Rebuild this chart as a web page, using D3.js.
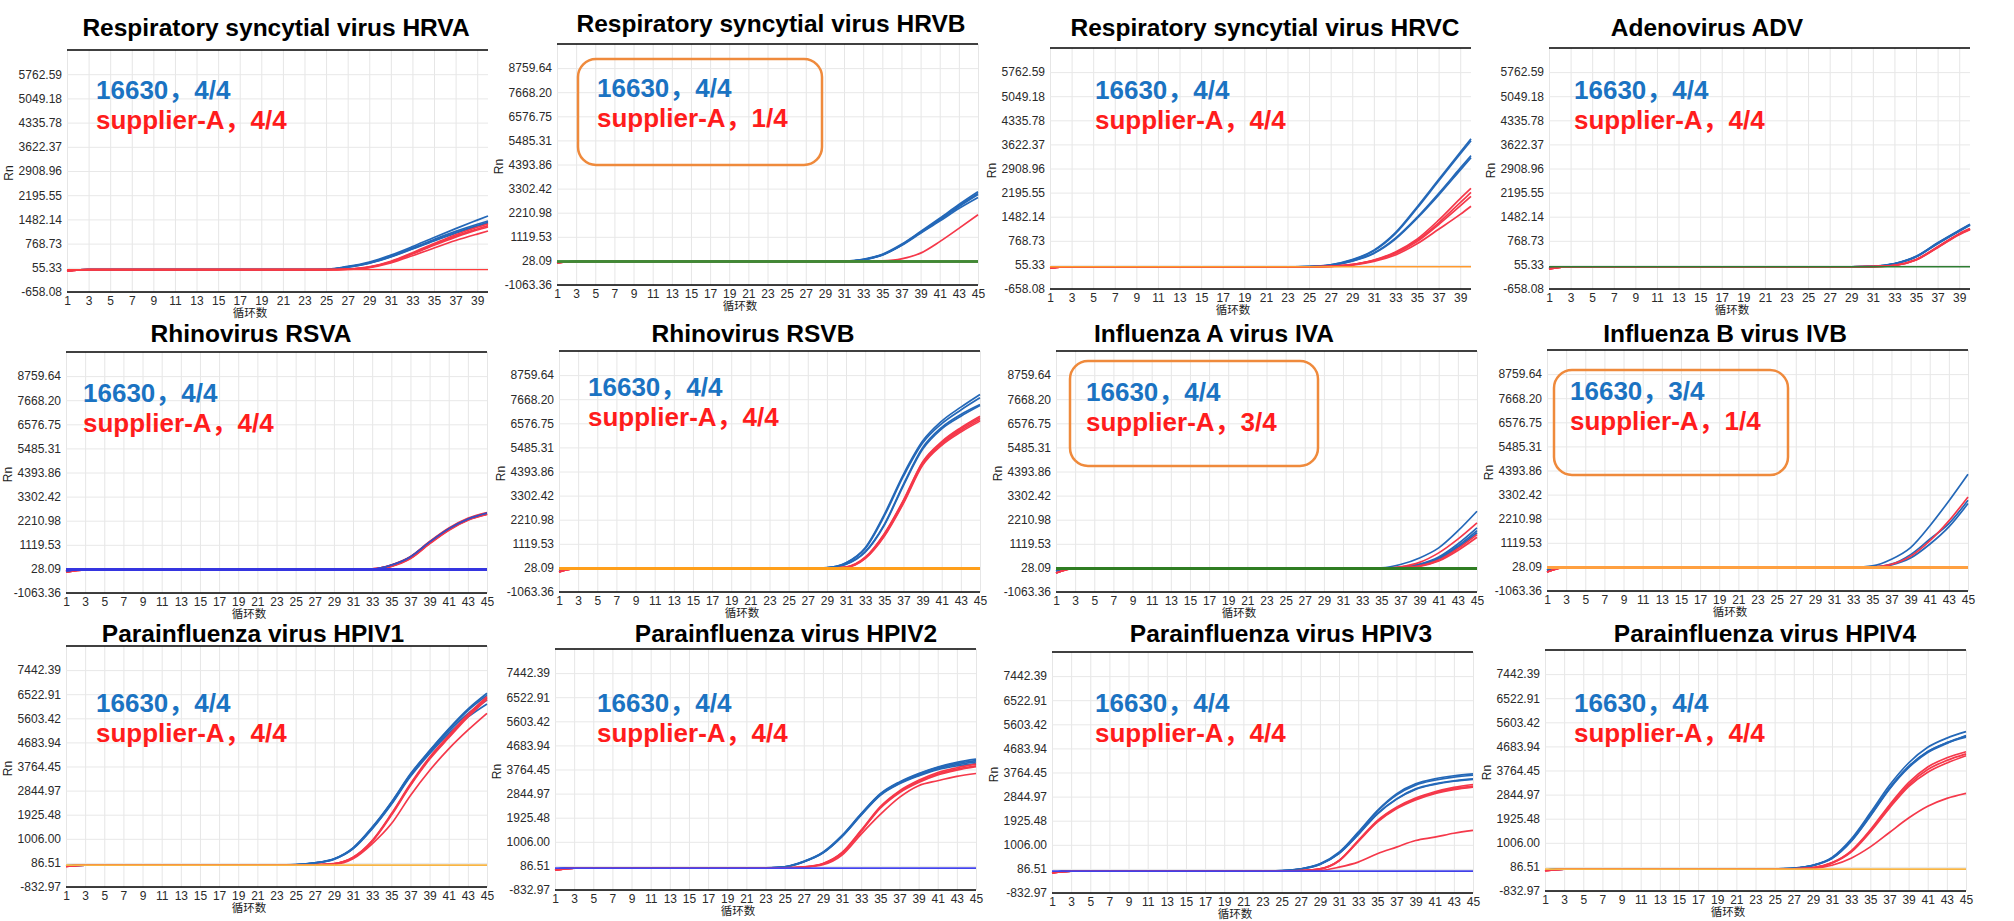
<!DOCTYPE html>
<html><head><meta charset="utf-8">
<script src="https://cdn.jsdelivr.net/npm/d3@7"></script>
<style>body{margin:0;background:#fff}svg{display:block}</style>
</head><body>
<svg id="c" width="2014" height="921"></svg>
<script>
// ---------------- DATA ----------------
const titles = ["Respiratory syncytial virus HRVA","Respiratory syncytial virus HRVB","Respiratory syncytial virus HRVC","Adenovirus ADV",
  "Rhinovirus RSVA","Rhinovirus RSVB","Influenza A virus IVA","Influenza B virus IVB",
  "Parainfluenza virus HPIV1","Parainfluenza virus HPIV2","Parainfluenza virus HPIV3","Parainfluenza virus HPIV4"];
const resultsA = ["16630，4/4","16630，4/4","16630，4/4","16630，4/4","16630，4/4","16630，4/4","16630，4/4","16630，3/4","16630，4/4","16630，4/4","16630，4/4","16630，4/4"];
const resultsB = ["supplier-A，4/4","supplier-A，1/4","supplier-A，4/4","supplier-A，4/4","supplier-A，4/4","supplier-A，4/4","supplier-A，3/4","supplier-A，1/4","supplier-A，4/4","supplier-A，4/4","supplier-A，4/4","supplier-A，4/4"];
const xLabel = "循环数";
const yLabel = "Rn";
const cycles40 = [1,3,5,7,9,11,13,15,17,19,21,23,25,27,29,31,33,35,37,39,40];
const cycles45 = [1,3,5,7,9,11,13,15,17,19,21,23,25,27,29,31,33,35,37,39,41,43,45];
const xTicks40 = [1,3,5,7,9,11,13,15,17,19,21,23,25,27,29,31,33,35,37,39];
const xTicks45 = [1,3,5,7,9,11,13,15,17,19,21,23,25,27,29,31,33,35,37,39,41,43,45];
const yTicksA = [-658.08,55.33,768.73,1482.14,2195.55,2908.96,3622.37,4335.78,5049.18,5762.59];
const yTicksB = [-1063.36,28.09,1119.53,2210.98,3302.42,4393.86,5485.31,6576.75,7668.20,8759.64];
const yTicksC = [-832.97,86.51,1006.00,1925.48,2844.97,3764.45,4683.94,5603.42,6522.91,7442.39];

// HRVA (cycles40)
const hrva16630 = [
 [-20,0,0,0,0,0,0,0,0,0,0,0,8,95,225,430,680,950,1210,1460,1584],
 [-20,0,0,0,0,0,0,0,0,0,0,0,5,85,205,400,640,890,1130,1340,1436],
 [-20,0,0,0,0,0,0,0,0,0,0,0,5,80,195,385,620,860,1090,1300,1400],
 [-20,0,0,0,0,0,0,0,0,0,0,0,3,75,190,375,610,850,1075,1280,1376]];
const hrvaSupplierA = [
 [-40,0,0,0,0,0,0,0,0,0,0,0,0,20,85,250,500,770,1030,1250,1347],
 [-40,0,0,0,0,0,0,0,0,0,0,0,0,15,75,235,475,740,990,1200,1300],
 [-40,0,0,0,0,0,0,0,0,0,0,0,0,15,70,225,460,720,960,1170,1260],
 [-40,0,0,0,0,0,0,0,0,0,0,0,0,10,60,200,410,640,860,1050,1140]];
const hrvaNeg = [[0,0,0,0,0,0,0,0,0,0,0,0,0,0,0,0,0,0,0,0,0]];

// HRVB (cycles45)
const hrvb16630 = [
 [-30,0,0,0,0,0,0,0,0,0,0,0,0,0,0,15,100,330,780,1360,1960,2580,3160],
 [-30,0,0,0,0,0,0,0,0,0,0,0,0,0,0,12,90,310,750,1330,1910,2520,3080],
 [-30,0,0,0,0,0,0,0,0,0,0,0,0,0,0,10,85,300,740,1310,1880,2480,3030],
 [-30,0,0,0,0,0,0,0,0,0,0,0,0,0,0,8,80,290,720,1280,1830,2400,2900]];
const hrvbSupplierA = [
 [-60,0,0,0,0,0,0,0,0,0,0,0,0,0,0,0,0,25,120,380,900,1500,2120],
 [-60,0,0,0,0,0,0,0,0,0,0,0,0,0,0,0,0,0,0,0,0,0,0],
 [-60,0,0,0,0,0,0,0,0,0,0,0,0,0,0,0,0,0,0,0,0,0,0],
 [-60,0,0,0,0,0,0,0,0,0,0,0,0,0,0,0,0,0,0,0,0,0,0]];
const hrvbNeg = [[0,0,0,0,0,0,0,0,0,0,0,0,0,0,0,0,0,0,0,0,0,0,0],[0,0,0,0,0,0,0,0,0,0,0,0,0,0,0,0,0,0,0,0,0,0,0]];

// HRVC (cycles40)
const hrvc16630 = [
 [-20,0,0,0,0,0,0,0,0,0,0,0,8,60,210,490,1010,1770,2580,3390,3786],
 [-20,0,0,0,0,0,0,0,0,0,0,0,8,55,200,470,980,1730,2540,3340,3730],
 [-20,0,0,0,0,0,0,0,0,0,0,0,5,45,175,410,850,1465,2170,2920,3291],
 [-20,0,0,0,0,0,0,0,0,0,0,0,5,40,165,395,820,1430,2120,2860,3230]];
const hrvcSupplierA = [
 [-40,0,0,0,0,0,0,0,0,0,0,0,0,15,70,200,440,820,1380,2020,2324],
 [-40,0,0,0,0,0,0,0,0,0,0,0,0,12,65,190,415,780,1300,1900,2200],
 [-40,0,0,0,0,0,0,0,0,0,0,0,0,10,60,180,395,745,1250,1800,2087],
 [-40,0,0,0,0,0,0,0,0,0,0,0,0,8,50,160,350,680,1110,1550,1791]];
const hrvcNeg = [[0,0,0,0,0,0,0,0,0,0,0,0,0,0,0,0,0,0,0,0,0]];

// ADV (cycles40)
const adv16630 = [
 [-40,0,0,0,0,0,0,0,0,0,0,0,0,0,0,12,95,310,710,1080,1260],
 [-40,0,0,0,0,0,0,0,0,0,0,0,0,0,0,10,90,300,700,1070,1250],
 [-40,0,0,0,0,0,0,0,0,0,0,0,0,0,0,10,88,295,690,1060,1240],
 [-40,0,0,0,0,0,0,0,0,0,0,0,0,0,0,8,85,290,680,1050,1230]];
const advSupplierA = [
 [-60,0,0,0,0,0,0,0,0,0,0,0,0,0,0,5,45,215,590,980,1130],
 [-60,0,0,0,0,0,0,0,0,0,0,0,0,0,0,5,40,210,580,970,1122],
 [-60,0,0,0,0,0,0,0,0,0,0,0,0,0,0,4,38,205,575,960,1110],
 [-60,0,0,0,0,0,0,0,0,0,0,0,0,0,0,3,35,200,565,950,1100]];
const advNeg = [[0,0,0,0,0,0,0,0,0,0,0,0,0,0,0,0,0,0,0,0,0]];

// RSVA (cycles45)
const rsva16630 = [
 [-80,0,0,0,0,0,0,0,0,0,0,0,0,0,0,5,25,210,590,1260,1860,2300,2570],
 [-80,0,0,0,0,0,0,0,0,0,0,0,0,0,0,5,20,200,580,1250,1850,2290,2560],
 [-80,0,0,0,0,0,0,0,0,0,0,0,0,0,0,4,18,195,570,1240,1840,2280,2550],
 [-80,0,0,0,0,0,0,0,0,0,0,0,0,0,0,4,15,190,560,1230,1830,2270,2540]];
const rsvaSupplierA = [
 [-100,0,0,0,0,0,0,0,0,0,0,0,0,0,0,3,15,185,560,1240,1850,2300,2560],
 [-100,0,0,0,0,0,0,0,0,0,0,0,0,0,0,3,12,175,545,1220,1830,2280,2540],
 [-100,0,0,0,0,0,0,0,0,0,0,0,0,0,0,2,10,170,535,1210,1820,2270,2530],
 [-100,0,0,0,0,0,0,0,0,0,0,0,0,0,0,2,8,160,520,1190,1800,2250,2510]];
const rsvaNeg = [[0,0,0,0,0,0,0,0,0,0,0,0,0,0,0,0,0,0,0,0,0,0,0]];

// RSVB (cycles45)
const rsvb16630 = [
 [-60,0,0,0,0,0,0,0,0,0,0,0,0,0,40,265,945,2455,4268,5770,6676,7307,7882],
 [-60,0,0,0,0,0,0,0,0,0,0,0,0,0,35,250,900,2380,4180,5680,6560,7180,7731],
 [-60,0,0,0,0,0,0,0,0,0,0,0,0,0,25,200,760,2002,3815,5469,6395,6980,7429],
 [-60,0,0,0,0,0,0,0,0,0,0,0,0,0,25,190,740,1960,3760,5400,6330,6900,7380]];
const rsvbSupplierA = [
 [-150,0,0,0,0,0,0,0,0,0,0,0,0,0,10,70,510,1580,3100,4830,5750,6380,6900],
 [-150,0,0,0,0,0,0,0,0,0,0,0,0,0,10,60,492,1549,3059,4790,5700,6320,6827],
 [-150,0,0,0,0,0,0,0,0,0,0,0,0,0,8,55,470,1500,3000,4730,5640,6250,6752],
 [-150,0,0,0,0,0,0,0,0,0,0,0,0,0,8,50,450,1460,2950,4670,5580,6180,6676]];
const rsvbNeg = [[0,0,0,0,0,0,0,0,0,0,0,0,0,0,0,0,0,0,0,0,0,0,0]];

// IVA (cycles45)
const iva16630 = [
 [-100,0,0,0,0,0,0,0,0,0,0,0,0,0,0,0,5,30,180,480,935,1700,2595],
 [-100,0,0,0,0,0,0,0,0,0,0,0,0,0,0,0,0,10,60,200,520,1110,1839],
 [-100,0,0,0,0,0,0,0,0,0,0,0,0,0,0,0,0,8,50,180,470,1020,1718],
 [-100,0,0,0,0,0,0,0,0,0,0,0,0,0,0,0,0,6,40,150,420,950,1620]];
const ivaSupplierA = [
 [-200,0,0,0,0,0,0,0,0,0,0,0,0,0,0,0,0,10,80,280,709,1330,2066],
 [-200,0,0,0,0,0,0,0,0,0,0,0,0,0,0,0,0,0,30,120,380,900,1537],
 [-200,0,0,0,0,0,0,0,0,0,0,0,0,0,0,0,0,0,25,100,340,820,1416],
 [-200,0,0,0,0,0,0,0,0,0,0,0,0,0,0,0,0,0,0,0,0,0,0]];
const ivaNeg = [[0,0,0,0,0,0,0,0,0,0,0,0,0,0,0,0,0,0,0,0,0,0,0]];

// IVB (cycles45)
const ivb16630 = [
 [-120,0,0,0,0,0,0,0,0,0,0,0,0,0,0,0,10,76,378,905,1884,3017,4227],
 [-120,0,0,0,0,0,0,0,0,0,0,0,0,0,0,0,0,20,151,583,1280,1990,3047],
 [-120,0,0,0,0,0,0,0,0,0,0,0,0,0,0,0,0,15,120,432,1053,1839,2896],
 [-120,0,0,0,0,0,0,0,0,0,0,0,0,0,0,0,0,0,0,0,0,0,0]];
const ivbSupplierA = [
 [-200,0,0,0,0,0,0,0,0,0,0,0,0,0,0,0,0,15,140,506,1204,2111,3198],
 [-200,0,0,0,0,0,0,0,0,0,0,0,0,0,0,0,0,0,0,0,0,0,0],
 [-200,0,0,0,0,0,0,0,0,0,0,0,0,0,0,0,0,0,0,0,0,0,0],
 [-200,0,0,0,0,0,0,0,0,0,0,0,0,0,0,0,0,0,0,0,0,0,0]];
const ivbNeg = [[0,0,0,0,0,0,0,0,0,0,0,0,0,0,0,0,0,0,0,0,0,0,0]];

// HPIV1 (cycles45)
const hpiv1_16630 = [
 [-30,0,0,0,0,0,0,0,0,0,0,0,20,89,242,661,1450,2404,3484,4374,5200,5950,6558],
 [-30,0,0,0,0,0,0,0,0,0,0,0,18,85,235,650,1430,2380,3460,4350,5170,5900,6480],
 [-30,0,0,0,0,0,0,0,0,0,0,0,15,80,225,630,1400,2340,3420,4300,5100,5780,6304],
 [-30,0,0,0,0,0,0,0,0,0,0,0,15,78,220,620,1380,2310,3380,4250,5020,5650,6151]];
const hpiv1_SupplierA = [
 [-50,0,0,0,0,0,0,0,0,0,0,0,0,15,60,305,941,1959,3103,4120,4946,5750,6431],
 [-50,0,0,0,0,0,0,0,0,0,0,0,0,12,55,290,920,1930,3070,4080,4900,5700,6380],
 [-50,0,0,0,0,0,0,0,0,0,0,0,0,10,50,280,900,1900,3040,4040,4860,5650,6330],
 [-50,0,0,0,0,0,0,0,0,0,0,0,0,8,30,242,814,1577,2658,3611,4437,5150,5795]];
const hpiv1_Neg = [[0,0,0,0,0,0,0,0,0,0,0,0,0,0,0,0,0,0,0,0,0,0,0]];

// HPIV2 (cycles45)
const hpiv2_16630 = [
 [-40,0,0,0,0,0,0,0,0,0,0,10,55,260,610,1250,2080,2840,3290,3610,3860,4040,4158],
 [-40,0,0,0,0,0,0,0,0,0,0,10,50,252,595,1233,2060,2823,3267,3586,3840,4000,4100],
 [-40,0,0,0,0,0,0,0,0,0,0,8,48,245,585,1215,2040,2800,3240,3550,3800,3950,4056],
 [-40,0,0,0,0,0,0,0,0,0,0,8,45,240,575,1200,2020,2780,3220,3520,3760,3900,3992]];
const hpiv2_SupplierA = [
 [-80,0,0,0,0,0,0,0,0,0,0,0,10,50,180,600,1450,2350,2950,3350,3650,3830,3967],
 [-80,0,0,0,0,0,0,0,0,0,0,0,8,45,170,580,1420,2320,2920,3310,3600,3780,3903],
 [-80,0,0,0,0,0,0,0,0,0,0,0,8,40,160,560,1400,2290,2880,3270,3560,3740,3870],
 [-80,0,0,0,0,0,0,0,0,0,0,0,6,35,130,500,1300,2050,2700,3145,3336,3500,3611]];
const hpiv2_Neg = [[0,0,0,0,0,0,0,0,0,0,0,0,0,0,0,0,0,0,0,0,0,0,0]];

// HPIV3 (cycles45)
const hpiv3_16630 = [
 [-50,0,0,0,0,0,0,0,0,0,0,0,20,89,280,725,1488,2314,2950,3331,3522,3640,3712],
 [-50,0,0,0,0,0,0,0,0,0,0,0,18,85,270,700,1460,2280,2900,3280,3470,3590,3660],
 [-50,0,0,0,0,0,0,0,0,0,0,0,15,80,260,680,1400,2200,2759,3140,3331,3450,3522],
 [-50,0,0,0,0,0,0,0,0,0,0,0,15,78,255,670,1390,2180,2740,3120,3310,3430,3500]];
const hpiv3_SupplierA = [
 [-70,0,0,0,0,0,0,0,0,0,0,0,0,20,89,408,1170,1932,2441,2790,3030,3200,3306],
 [-70,0,0,0,0,0,0,0,0,0,0,0,0,18,85,400,1150,1900,2410,2750,2990,3150,3242],
 [-70,0,0,0,0,0,0,0,0,0,0,0,0,15,80,390,1130,1870,2380,2720,2960,3110,3204],
 [-70,0,0,0,0,0,0,0,0,0,0,0,0,5,26,153,344,662,916,1170,1297,1446,1557]];
const hpiv3_Neg = [[0,0,0,0,0,0,0,0,0,0,0,0,0,0,0,0,0,0,0,0,0,0,0]];

// HPIV4 (cycles45)
const hpiv4_16630 = [
 [-40,0,0,0,0,0,0,0,0,0,0,0,10,40,150,450,1150,2150,3200,4050,4650,5000,5246],
 [-40,0,0,0,0,0,0,0,0,0,0,0,10,38,145,430,1100,2080,3100,3920,4490,4820,5040],
 [-40,0,0,0,0,0,0,0,0,0,0,0,8,35,140,420,1080,2050,3080,3900,4480,4830,5080],
 [-40,0,0,0,0,0,0,0,0,0,0,0,8,35,140,410,1060,2020,3050,3870,4450,4800,5100]];
const hpiv4_SupplierA = [
 [-60,0,0,0,0,0,0,0,0,0,0,0,0,12,60,250,700,1500,2450,3300,3900,4250,4480],
 [-60,0,0,0,0,0,0,0,0,0,0,0,0,10,55,240,680,1460,2400,3220,3800,4150,4400],
 [-60,0,0,0,0,0,0,0,0,0,0,0,0,10,50,230,650,1420,2330,3150,3700,4050,4330],
 [-60,0,0,0,0,0,0,0,0,0,0,0,0,8,30,150,420,850,1400,1950,2400,2700,2890]];
const hpiv4_Neg = [[0,0,0,0,0,0,0,0,0,0,0,0,0,0,0,0,0,0,0,0,0,0,0]];

// ---------------- ASSEMBLY ----------------
const panels = [
 {cycles:cycles40, xt:xTicks40, yt:yTicksA, blue:hrva16630, red:hrvaSupplierA, neg:hrvaNeg},
 {cycles:cycles45, xt:xTicks45, yt:yTicksB, blue:hrvb16630, red:hrvbSupplierA, neg:hrvbNeg},
 {cycles:cycles40, xt:xTicks40, yt:yTicksA, blue:hrvc16630, red:hrvcSupplierA, neg:hrvcNeg},
 {cycles:cycles40, xt:xTicks40, yt:yTicksA, blue:adv16630, red:advSupplierA, neg:advNeg},
 {cycles:cycles45, xt:xTicks45, yt:yTicksB, blue:rsva16630, red:rsvaSupplierA, neg:rsvaNeg},
 {cycles:cycles45, xt:xTicks45, yt:yTicksB, blue:rsvb16630, red:rsvbSupplierA, neg:rsvbNeg},
 {cycles:cycles45, xt:xTicks45, yt:yTicksB, blue:iva16630, red:ivaSupplierA, neg:ivaNeg},
 {cycles:cycles45, xt:xTicks45, yt:yTicksB, blue:ivb16630, red:ivbSupplierA, neg:ivbNeg},
 {cycles:cycles45, xt:xTicks45, yt:yTicksC, blue:hpiv1_16630, red:hpiv1_SupplierA, neg:hpiv1_Neg},
 {cycles:cycles45, xt:xTicks45, yt:yTicksC, blue:hpiv2_16630, red:hpiv2_SupplierA, neg:hpiv2_Neg},
 {cycles:cycles45, xt:xTicks45, yt:yTicksC, blue:hpiv3_16630, red:hpiv3_SupplierA, neg:hpiv3_Neg},
 {cycles:cycles45, xt:xTicks45, yt:yTicksC, blue:hpiv4_16630, red:hpiv4_SupplierA, neg:hpiv4_Neg}
];

// layout (positions / styles)
const layout = [
 {L:67,  T:50,  B:292, tx:276,  ty:35.5, ax:96,   ay:99,  negC:"#ff3b3b", negW:1.3},
 {L:557, T:44,  B:285, tx:771,  ty:32,   ax:597,  ay:97,  negC:"#3f8a35", negW:2.6, box:[578,59,244,106]},
 {L:1050,T:48,  B:289, tx:1265, ty:35.5, ax:1095, ay:99,  negC:"#ff9a2e", negW:1.6},
 {L:1549,T:48,  B:289, tx:1707, ty:35.5, ax:1574, ay:99,  negC:"#2e7d32", negW:1.3},
 {L:66,  T:352, B:593, tx:251,  ty:342,  ax:83,   ay:402, negC:"#3535e0", negW:3, redFirst:true},
 {L:559, T:351, B:592, tx:753,  ty:342,  ax:588,  ay:396, negC:"#ff9f1a", negW:3},
 {L:1056,T:351, B:592, tx:1214, ty:342,  ax:1086, ay:401, negC:"#2f7d22", negW:3, box:[1070,361,248,105]},
 {L:1547,T:350, B:591, tx:1725, ty:342,  ax:1570, ay:400, negC:"#ffa040", negW:3, box:[1554,370,234,105]},
 {L:66,  T:646, B:887, tx:253,  ty:641.5,ax:96,   ay:712, negC:"#f7b544", negW:1.6},
 {L:555, T:649, B:890, tx:786,  ty:641.5,ax:597,  ay:712, negC:"#4444ee", negW:1.6},
 {L:1052,T:652, B:893, tx:1281, ty:641.5,ax:1095, ay:712, negC:"#4040e8", negW:1.6},
 {L:1545,T:650, B:891, tx:1765, ty:641.5,ax:1574, ay:712, negC:"#f7b544", negW:1.6}
];
const W = 421;
const blueC = "#2468b8", redC = "#f5384a";
const txtBlue = "#1b73c2", txtRed = "#ff1c1c";
const fontLatin = "'Liberation Sans', Arial, 'Noto Sans CJK SC', sans-serif";

const svg = d3.select("#c");
svg.append("rect").attr("width",2014).attr("height",921).attr("fill","#fff");

panels.forEach((p,i)=>{
  const lo = layout[i];
  const g = svg.append("g");
  const last = p.cycles[p.cycles.length-1];
  const x = d3.scaleLinear().domain([1,last]).range([lo.L, lo.L+W]);
  const step = p.yt[1]-p.yt[0];
  const y = d3.scaleLinear().domain([p.yt[0], p.yt[0]+10*step]).range([lo.B, lo.T]);

  // vertical grid
  g.append("g").attr("transform",`translate(0,${lo.B})`)
    .call(d3.axisBottom(x).tickValues(p.xt).tickSize(-(lo.B-lo.T)).tickFormat(""))
    .call(s=>{s.select(".domain").remove(); s.selectAll("line").attr("stroke","#e6e6e6");});
  // horizontal grid + y labels
  g.append("g").attr("transform",`translate(${lo.L},0)`)
    .call(d3.axisLeft(y).tickValues(p.yt).tickSize(-W).tickPadding(5).tickFormat(d=>d.toFixed(2)))
    .call(s=>{s.select(".domain").remove();
      s.selectAll("line").attr("stroke","#e8e8e8");
      s.selectAll("text").attr("font-family",fontLatin).attr("font-size",12).attr("fill","#2a2a2a");});
  // x labels
  g.append("g").attr("transform",`translate(0,${lo.B})`)
    .call(d3.axisBottom(x).tickValues(p.xt).tickSize(0).tickPadding(4).tickFormat(d3.format("d")))
    .call(s=>{s.select(".domain").remove();
      s.selectAll("text").attr("font-family",fontLatin).attr("font-size",12).attr("fill","#2a2a2a");});
  // frame lines
  g.append("line").attr("x1",lo.L).attr("x2",lo.L+W).attr("y1",lo.T).attr("y2",lo.T).attr("stroke","#000").attr("stroke-width",1.5);
  g.append("line").attr("x1",lo.L).attr("x2",lo.L+W).attr("y1",lo.B).attr("y2",lo.B).attr("stroke","#000").attr("stroke-width",1.5);

  const line = d3.line().x((d,k)=>x(p.cycles[k])).y(d=>y(d)).curve(d3.curveMonotoneX);
  const drawSet = (arr,color,w)=>arr.forEach(v=>g.append("path").attr("d",line(v)).attr("fill","none")
      .attr("stroke",color).attr("stroke-width",w).attr("stroke-linejoin","round"));
  if(lo.redFirst){ drawSet(p.red,redC,2.6); drawSet(p.blue,"#3a4fbf",1.1); }
  else { drawSet(p.blue,blueC,1.7); drawSet(p.red,redC,1.7); }
  drawSet(p.neg,lo.negC,lo.negW);

  // axis titles
  g.append("text").attr("x",lo.L+183).attr("y",lo.B+25).attr("text-anchor","middle")
    .attr("font-family","'Noto Sans CJK SC', sans-serif").attr("font-size",11.5).attr("fill","#222").text(xLabel);
  g.append("text").attr("transform",`translate(${lo.L-54},${(lo.T+lo.B)/2+2}) rotate(-90)`).attr("text-anchor","middle")
    .attr("font-family",fontLatin).attr("font-size",12).attr("fill","#222").text(yLabel);

  // title
  g.append("text").attr("x",lo.tx).attr("y",lo.ty).attr("text-anchor","middle")
    .attr("font-family",fontLatin).attr("font-weight","bold").attr("font-size",24.5).attr("fill","#000").text(titles[i]);

  // box
  if(lo.box){
    g.append("rect").attr("x",lo.box[0]).attr("y",lo.box[1]).attr("width",lo.box[2]).attr("height",lo.box[3])
      .attr("rx",18).attr("fill","none").attr("stroke","#ef8a3c").attr("stroke-width",2.5);
  }
  // annotations
  g.append("text").attr("x",lo.ax).attr("y",lo.ay).attr("font-family",fontLatin).attr("font-weight","bold")
    .attr("font-size",26).attr("fill",txtBlue).text(resultsA[i]);
  g.append("text").attr("x",lo.ax).attr("y",lo.ay+30).attr("font-family",fontLatin).attr("font-weight","bold")
    .attr("font-size",26).attr("fill",txtRed).text(resultsB[i]);
});
</script>
</body></html>
